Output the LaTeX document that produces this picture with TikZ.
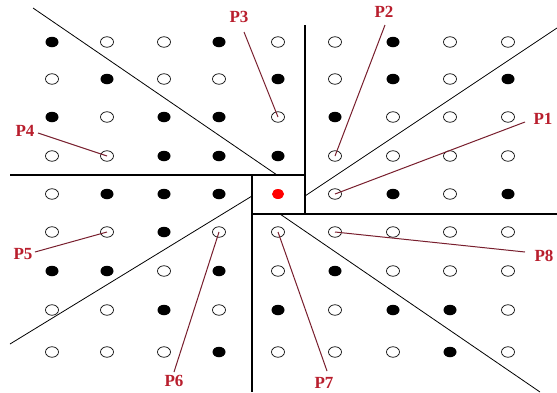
\documentclass[tikz,border=0pt]{standalone}
\usepackage{fontspec}
\setmainfont{Liberation Serif}
\usetikzlibrary{shapes.geometric}
\definecolor{lblred}{RGB}{185,30,45}
\definecolor{leadred}{RGB}{120,30,45}
\tikzset{
  dotbase/.style={ellipse,inner sep=0pt,minimum width=13pt,minimum height=10.5pt},
  dot0/.style={dotbase,draw=black,line width=0.7pt,fill=white},
  dot1/.style={dotbase,fill=black},
  dot2/.style={dotbase,fill=red,minimum width=12pt,minimum height=10pt},
  axis/.style={line width=1.2pt,black},
  diag/.style={line width=0.8pt,black},
  leader/.style={line width=1pt,leadred},
  lbl/.style={text=lblred,font=\bfseries\fontsize{17}{17}\selectfont,inner sep=0pt}
}
\begin{document}
\begin{tikzpicture}[x=1pt,y=-1pt]
\useasboundingbox[fill=white] (0,0) rectangle (557,392);
% partition lines
\draw[axis] (10,175) -- (252,175);
\draw[axis] (252,175) rectangle (305,214);
\draw[axis] (305,25) -- (305,175);
\draw[axis] (305,214) -- (557,214);
\draw[axis] (252,214) -- (252,392);
\draw[diag] (33,8) -- (277,175);
\draw[diag] (557,28) -- (305,196);
\draw[diag] (10,344) -- (252,196);
\draw[diag] (280,214) -- (540,392);
% dots
\def\xs{{52,107,164,219,278,335,393,450,508}}
\def\ys{{42,79,117,156,194,232,271,310,352}}
\foreach \rowv [count=\r] in {
  {1,0,0,1,0,0,1,0,0},
  {0,1,0,0,1,0,1,0,1},
  {1,0,1,1,0,1,0,0,0},
  {0,0,1,1,1,0,0,0,0},
  {0,1,1,1,2,0,1,0,1},
  {0,0,1,0,0,0,0,0,0},
  {1,1,0,1,0,1,0,0,0},
  {0,0,1,0,1,0,1,1,0},
  {0,0,0,1,0,0,0,1,0}}{
  \foreach \v [count=\c] in \rowv {
    \pgfmathsetmacro\px{\xs[\c-1]}
    \pgfmathsetmacro\py{\ys[\r-1]}
    \node[dot\v] (d\r-\c) at (\px,\py) {};
  }
}
% labels
\node[lbl] (P1) at (543,119) {P1};
\node[lbl] (P2) at (384,12) {P2};
\node[lbl] (P3) at (239,17) {P3};
\node[lbl] (P4) at (25,131) {P4};
\node[lbl] (P5) at (23,254) {P5};
\node[lbl] (P6) at (174,381) {P6};
\node[lbl] (P7) at (324,383) {P7};
\node[lbl] (P8) at (544,256) {P8};
% leader ends
\coordinate (e1) at (525,122);
\coordinate (e2) at (385,25);
\coordinate (e3) at (244,32);
\coordinate (e4) at (38,133);
\coordinate (e5) at (35,252);
\coordinate (e6) at (174,372);
\coordinate (e7) at (327,371);
\coordinate (e8) at (525,252);
\draw[leader] (d5-6.center) -- (e1);
\draw[leader] (d4-6.center) -- (e2);
\draw[leader] (d3-5.center) -- (e3);
\draw[leader] (d4-2.center) -- (e4);
\draw[leader] (d6-2.center) -- (e5);
\draw[leader] (d6-4.center) -- (e6);
\draw[leader] (d6-5.center) -- (e7);
\draw[leader] (d6-6.center) -- (e8);
\end{tikzpicture}
\end{document}
